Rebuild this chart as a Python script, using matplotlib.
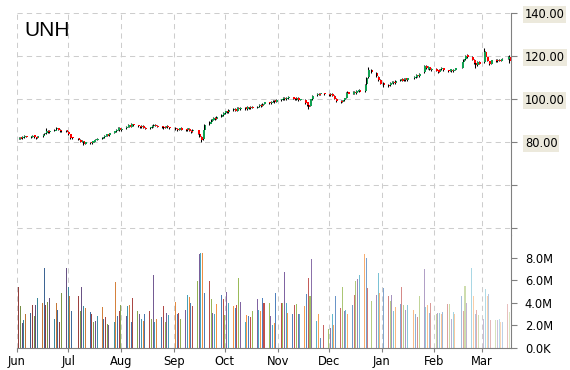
import matplotlib
matplotlib.use('Agg')
import matplotlib.pyplot as plt
import matplotlib.dates as mdates
from matplotlib.colors import to_rgb
import numpy as np
import pandas as pd

ticker = 'UNH'
holidays = ['2014-07-04', '2014-09-01', '2014-11-27', '2014-12-25',
            '2015-01-01', '2015-01-19', '2015-02-16']
dates = pd.bdate_range('2014-06-02', '2015-03-17', freq='C', holidays=holidays)

# daily prices, one row per week
opens = [81.5, 82.1, 81.8, 82.2, 82.9,  82.3, 82.4, 83.1, 82.3, 81.9,
         82.7, 83.5, 84.1, 85.2, 84.5,  85.3, 85.9, 86.5, 85.8, 84.9,
         85.4, 84.7, 83.6, 82.1,  81.7, 80.9, 80.1, 80.4, 79.1,
         79.9, 79.4, 80.2, 80.9, 81.1,  81.6, 82.1, 82.9, 83.6, 83.1,
         84.2, 85.1, 85.7, 86.6, 85.5,  86.3, 87.1, 87.9, 87.1, 88.4,
         87.8, 87.3, 86.9, 87.4, 86.7,  86.3, 86.9, 87.4, 88.1, 87.5,
         87.3, 87.1, 86.6, 87.4, 86.8,  86.7, 86.1, 85.7, 86.5,
         85.9, 85.4, 86.2, 85.3, 84.9,  85.4, 83.7, 82.4, 81.3, 85.8,
         88.2, 89.3, 90.4, 91.1, 90.7,  91.7, 92.6, 93.5, 94.3, 93.9,
         94.8, 95.3, 94.5, 95.9, 95.3,  96.1, 95.4, 96.3, 95.6, 96.5,
         96.0, 96.6, 97.4, 96.9, 97.9,  98.5, 98.1, 98.9, 99.4, 98.7,
         99.5, 99.9, 100.6, 99.8, 100.5,  100.9, 100.3, 99.7, 100.5, 99.7,
         99.7, 98.4, 97.2, 96.8, 99.9,  101.7, 102.5, 102.1, 102.7,
         102.3, 101.9, 102.5, 101.5, 100.1,  99.1, 98.7, 99.5, 100.5, 103.1,
         102.4, 103.3, 102.7, 103.9, 104.1,  103.6, 106.8, 110.3, 113.4,
         112.2, 110.4, 108.8, 107.4,  106.7, 106.4, 107.6, 108.1, 107.5,
         108.6, 109.3, 108.7, 109.6, 108.9,  109.7, 110.3, 111.1, 110.6,
         112.4, 115.3, 114.1, 114.7, 113.5,  114.1, 113.3, 112.7, 113.9, 114.3,
         113.4, 113.1, 113.7, 113.0, 113.6,  114.5, 117.2, 118.6, 120.3,
         119.5, 118.2, 116.7, 115.7, 117.3,  117.0, 121.8, 119.4, 117.6, 116.4,
         118.1, 117.7, 118.3, 117.8, 118.5,  118.7, 119.4]
highs = [82.4, 82.3, 82.6, 83.1, 83.0,  82.9, 83.4, 83.3, 82.5, 82.9,
         83.7, 84.4, 86.6, 85.5, 85.6,  86.2, 86.8, 86.7, 86.0, 85.6,
         85.8, 84.9, 83.8, 82.5,  82.0, 81.2, 80.8, 80.6, 80.1,
         80.1, 80.6, 81.1, 81.5, 81.9,  82.5, 83.1, 83.9, 83.8, 84.3,
         85.3, 86.1, 86.9, 86.8, 86.6,  87.3, 88.2, 88.1, 89.0, 88.6,
         88.1, 87.6, 87.8, 87.7, 87.0,  87.0, 87.8, 88.4, 88.3, 87.8,
         87.6, 87.3, 87.6, 87.7, 87.0,  86.9, 86.4, 86.7, 86.8,
         86.1, 86.6, 86.5, 85.6, 86.0,  85.6, 84.0, 82.7, 85.8, 88.4,
         89.6, 90.8, 91.4, 91.4, 92.1,  92.8, 94.0, 94.6, 94.5, 95.4,
         95.7, 95.6, 96.2, 96.3, 96.5,  96.4, 96.6, 96.5, 96.8, 96.7,
         96.8, 97.7, 97.6, 98.2, 98.8,  98.8, 99.1, 99.7, 99.6, 100.0,
         100.1, 100.9, 100.8, 100.9, 101.4,  101.1, 100.5, 100.7, 100.7, 100.2,
         99.9, 98.6, 97.5, 100.0, 101.8,  102.8, 102.8, 102.9, 102.9,
         102.5, 102.7, 102.7, 101.7, 100.4,  99.4, 99.7, 100.6, 103.4, 103.5,
         103.6, 103.6, 104.1, 104.4, 104.5,  106.9, 110.4, 114.8, 113.8,
         112.4, 110.7, 109.1, 107.8,  107.0, 107.8, 108.4, 108.3, 108.8,
         109.5, 109.6, 109.9, 109.8, 109.9,  110.5, 111.4, 111.3, 111.9,
         115.8, 115.6, 115.2, 115.0, 114.4,  114.4, 113.6, 114.1, 114.8, 114.6,
         113.7, 114.1, 114.0, 113.8, 114.5,  117.4, 118.8, 120.6, 120.8,
         119.8, 118.5, 117.0, 117.5, 117.6,  123.5, 122.2, 119.7, 117.9, 118.3,
         118.4, 118.5, 118.6, 118.7, 118.9,  119.9, 120.4]
lows = [81.2, 81.3, 81.6, 82.0, 82.1,  82.0, 82.2, 81.9, 81.5, 81.7,
        82.5, 83.2, 83.9, 84.3, 84.2,  85.0, 85.6, 85.4, 84.7, 84.6,
        84.5, 83.2, 81.6, 81.4,  80.7, 79.9, 79.8, 78.8, 78.9,
        79.2, 79.2, 79.9, 80.6, 80.8,  81.3, 81.9, 82.6, 82.7, 82.9,
        84.0, 84.8, 85.4, 85.2, 85.2,  86.0, 86.8, 87.0, 86.8, 87.6,
        87.1, 86.5, 86.6, 86.3, 85.9,  86.0, 86.6, 87.2, 87.3, 86.9,
        86.7, 86.2, 86.3, 86.6, 86.2,  85.7, 85.3, 85.4, 85.5,
        85.1, 85.1, 84.9, 84.4, 84.6,  83.5, 82.2, 80.0, 81.0, 85.5,
        87.9, 89.0, 90.1, 90.3, 90.5,  91.4, 92.3, 93.2, 93.4, 93.6,
        94.5, 94.3, 94.2, 95.1, 94.9,  95.1, 95.1, 95.2, 95.4, 95.7,
        95.7, 96.3, 96.4, 96.6, 97.6,  97.6, 97.8, 98.6, 98.2, 98.5,
        99.2, 99.6, 99.6, 99.5, 100.2,  100.0, 99.5, 99.5, 99.3, 99.4,
        97.9, 96.6, 95.5, 96.6, 99.7,  101.5, 101.8, 101.9, 102.0,
        101.4, 101.6, 101.3, 99.9, 98.6,  98.0, 98.4, 99.2, 100.3, 101.9,
        102.1, 102.3, 102.5, 103.6, 103.1,  103.4, 106.5, 110.0, 112.0,
        110.3, 108.6, 106.8, 105.7,  105.8, 106.1, 107.3, 107.0, 107.2,
        108.3, 108.2, 108.4, 108.5, 108.6,  109.4, 110.0, 110.2, 110.4,
        112.2, 113.9, 113.8, 113.3, 113.2,  112.9, 111.9, 112.4, 113.6, 113.2,
        112.6, 112.8, 112.6, 112.7, 113.3,  114.3, 116.9, 118.3, 119.3,
        118.0, 116.5, 114.6, 115.4, 116.1,  116.8, 119.2, 117.5, 115.8, 116.1,
        117.3, 117.4, 117.6, 117.5, 118.2,  118.5, 116.8]
closes = [82.0, 81.6, 82.3, 82.8, 82.4,  82.5, 83.0, 82.2, 81.8, 82.6,
          83.4, 84.0, 85.0, 84.6, 85.2,  85.8, 86.4, 85.7, 85.0, 85.3,
          84.8, 83.5, 82.0, 81.8,  81.0, 80.2, 80.5, 79.2, 79.8,
          79.5, 80.3, 80.8, 81.2, 81.5,  82.2, 82.8, 83.5, 83.0, 84.0,
          85.0, 85.8, 86.5, 85.6, 86.2,  87.0, 87.8, 87.2, 88.3, 87.9,
          87.4, 86.8, 87.5, 86.6, 86.2,  86.8, 87.5, 88.0, 87.6, 87.2,
          87.0, 86.5, 87.3, 86.9, 86.6,  86.0, 85.6, 86.4, 85.8,
          85.5, 86.3, 85.2, 84.8, 85.6,  83.8, 82.5, 81.0, 85.5, 88.0,
          89.2, 90.5, 91.0, 90.6, 91.8,  92.5, 93.6, 94.2, 93.8, 95.0,
          95.2, 94.6, 95.8, 95.4, 96.0,  95.5, 96.2, 95.7, 96.4, 96.0,
          96.5, 97.3, 96.8, 97.8, 98.4,  98.0, 98.8, 99.3, 98.6, 99.6,
          99.8, 100.5, 99.9, 100.6, 101.0,  100.2, 99.8, 100.4, 99.6, 99.9,
          98.2, 97.0, 96.5, 99.8, 101.5,  102.4, 102.0, 102.6, 102.2,
          101.8, 102.4, 101.6, 100.2, 99.0,  98.6, 99.4, 100.3, 103.0, 102.2,
          103.2, 102.6, 103.8, 104.0, 103.4,  106.5, 110.0, 113.5, 112.4,
          110.6, 109.0, 107.2, 106.5,  106.2, 107.5, 108.0, 107.4, 108.5,
          109.2, 108.6, 109.5, 108.8, 109.6,  110.2, 111.0, 110.5, 111.6,
          115.5, 114.2, 114.8, 113.6, 114.0,  113.2, 112.6, 113.8, 114.4, 113.5,
          113.0, 113.8, 112.9, 113.5, 114.2,  117.0, 118.5, 120.2, 119.6,
          118.3, 116.8, 115.6, 117.2, 116.4,  122.0, 119.5, 117.8, 116.2, 118.0,
          117.6, 118.2, 117.9, 118.4, 118.6,  119.5, 117.6]

# volume in millions
volumes = [5.4, 3.7, 2.2, 2.5, 3.0, 3.1, 3.8, 2.8, 3.8, 4.4, 4.0, 7.1, 3.8, 4.1, 4.4,
           2.6, 4.0, 3.4, 2.3, 4.9, 7.1, 5.4, 4.6, 3.3, 4.6, 3.3, 5.4, 3.7, 3.5, 3.2,
           3.0, 2.3, 2.4, 2.8, 3.6, 2.6, 2.7, 2.1, 2.0, 2.3, 5.8, 2.8, 3.3, 3.8, 2.8,
           3.7, 3.8, 2.3, 4.4, 3.3, 3.0, 2.6, 2.4, 3.0, 3.3, 2.6, 6.5, 2.3, 2.6, 2.7,
           3.7, 2.3, 3.1, 2.9, 4.1, 3.0, 3.1, 2.6, 3.4, 4.7, 4.5, 4.0, 3.7, 5.9,
           8.3, 8.4, 8.4, 4.9, 5.9, 4.3, 3.1, 3.0, 3.9, 4.7, 4.3, 2.9, 5.0, 4.0, 3.7,
           3.5, 3.8, 6.2, 4.1, 2.3, 2.9, 2.8, 2.7, 3.3, 4.3, 3.4, 3.3, 4.4, 4.0, 4.0,
           2.8, 2.0, 2.2, 4.9, 4.0, 4.0, 6.7, 4.0, 3.1, 3.0, 3.8, 3.9, 3.0, 3.0, 3.7,
           4.8, 6.2, 4.6, 7.9, 2.4, 3.0, 0.9, 2.0, 1.7, 1.8, 3.0, 2.0, 4.6, 3.5, 5.4,
           3.3, 3.4, 3.0, 3.8, 4.7, 5.9, 6.1, 6.5, 8.3, 8.0, 5.3,
           4.2, 4.7, 6.6, 4.9, 5.3, 4.6, 4.2, 4.7, 3.3, 3.6, 3.9, 5.4, 3.8, 3.4, 3.8,
           3.4, 3.0, 2.7, 4.6, 7.0, 3.6, 3.8, 3.1, 4.0, 3.0, 3.1, 3.1, 3.0, 3.2, 3.9,
           3.9, 2.6, 3.2, 3.0, 4.6, 3.3, 5.5, 4.0, 7.1, 4.6, 3.0, 3.4, 2.9, 2.6, 5.2,
           4.6, 4.8, 2.5, 2.5, 2.5, 2.6, 2.3, 2.3, 3.9, 3.2]

months = ['2014-06-01', '2014-07-01', '2014-08-01', '2014-09-01', '2014-10-01',
          '2014-11-01', '2014-12-01', '2015-01-01', '2015-02-01', '2015-03-01']
month_labels = ['Jun', 'Jul', 'Aug', 'Sep', 'Oct', 'Nov', 'Dec', 'Jan', 'Feb', 'Mar']
price_ticks = [40, 60, 80, 100, 120, 140]
vol_ticks = [0, 2, 4, 6, 8]
vol_labels = ['0.0K', '2.0M', '4.0M', '6.0M', '8.0M']

palette = ['#C0504D', '#9BBB59', '#8064A2', '#4BACC6', '#F79646', '#4F81BD']

x = mdates.date2num(dates)
o = np.array(opens); h = np.array(highs); l = np.array(lows); c = np.array(closes)
vol = np.array(volumes) * 1e6

W, H = 570, 370
fig = plt.figure(figsize=(W / 100, H / 100), dpi=100)
L, R = 17, 511
ax = fig.add_axes([L / W, (H - 235) / H, (R - L) / W, (235 - 13) / H])
axv = fig.add_axes([L / W, (H - 348) / H, (R - L) / W, (348 - 235) / H], sharex=ax)

grid_kw = dict(color='#cdcdcd', lw=0.75, ls=(0, (5, 4)))

# candles
up = c >= o
body_col = np.where(up, '#10a050', '#ff0000')
ax.vlines(x, l, h, color='black', lw=0.75, zorder=3)
ax.bar(x + 0.2, np.maximum(np.abs(c - o), 0.3), bottom=np.minimum(o, c),
       width=1.0, align='edge', color=body_col, lw=0, zorder=4)

# volume bars, colour cycles and fades
n = len(vol)
cols = []
for i in range(n):
    r, g, b = to_rgb(palette[i % 6])
    f = 0.75 + 0.25 * min(1.0, i / 90)
    a = 1.0 if i < 110 else 1.0 - 0.65 * (i - 110) / (n - 110)
    cols.append((r * f, g * f, b * f, a))
axv.bar(x, vol, width=0.6, color=cols, lw=0, zorder=3)

ax.set_xlim(mdates.date2num(pd.Timestamp('2014-06-01')),
            mdates.date2num(pd.Timestamp('2015-03-18')))
ax.set_ylim(140 - 222 / 2.15, 140)
axv.set_ylim(0, 10e6)

mt = mdates.date2num(pd.to_datetime(months))
for a_ in (ax, axv):
    a_.set_xticks(mt)
    a_.grid(axis='x', **grid_kw)
    a_.set_axisbelow(True)
    a_.spines['top'].set_visible(False)
    a_.spines['left'].set_visible(False)
    a_.spines['right'].set_color('#808080')
    a_.yaxis.tick_right()
    a_.tick_params(axis='y', direction='out', length=4, color='#808080',
                   labelsize=8.3, pad=6)
ax.grid(axis='y', **grid_kw)
ax.spines['bottom'].set_visible(False)
axv.spines['bottom'].set_color('#808080')
ax.tick_params(axis='x', length=0, labelbottom=False)
axv.set_xticklabels(month_labels)
axv.tick_params(axis='x', length=3, color='#808080', labelsize=8.3, pad=2)

ax.set_yticks(price_ticks)
ax.set_yticklabels(['%.2f' % v if v >= 80 else '' for v in price_ticks])
for lbl in ax.get_yticklabels():
    if lbl.get_text():
        lbl.set_bbox(dict(facecolor='#ece9dc', edgecolor='none', pad=1.2))
axv.set_yticks([v * 1e6 for v in vol_ticks])
axv.set_yticklabels(vol_labels)

fig.text(24 / W, 1 - 30 / H, ticker, fontsize=15, family='Liberation Sans', va='center')

fig.savefig('out.png', dpi=100)
